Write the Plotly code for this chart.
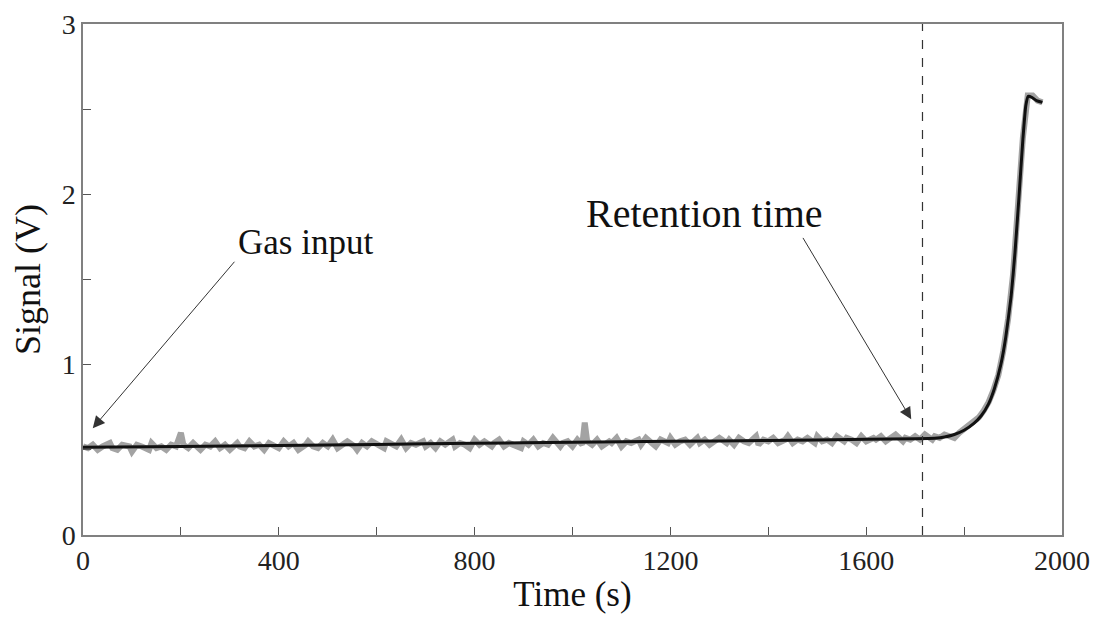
import plotly.graph_objects as go

# Smoothed signal (black line)
fit_t = [0, 200, 400, 600, 800, 1000, 1200, 1400, 1600, 1700, 1740, 1760, 1780, 1800, 1820,
         1835, 1850, 1862, 1875, 1885, 1896, 1904, 1912, 1920, 1926, 1931, 1938, 1948, 1960]
fit_v = [0.515, 0.52, 0.525, 0.532, 0.538, 0.545, 0.55, 0.555, 0.562, 0.565, 0.568, 0.575,
         0.59, 0.615, 0.655, 0.70, 0.77, 0.86, 1.00, 1.16, 1.40, 1.66, 1.98, 2.32, 2.52,
         2.575, 2.57, 2.55, 2.54]

# Raw (noisy) signal (grey trace)
raw_t = [0, 10, 20, 30, 40, 55, 60, 70, 80, 95, 100, 110, 120, 135, 140, 150, 160, 170, 180,
         190, 200, 205, 215, 225, 240, 250, 260, 270, 280, 290, 300, 315, 320, 330, 340, 350,
         360, 370, 380, 395, 400, 410, 420, 430, 440, 455, 460, 470, 480, 490, 500, 510, 520,
         530, 540, 555, 560, 570, 580, 590, 600, 615, 620, 630, 640, 650, 660, 670, 680, 695,
         700, 710, 720, 730, 740, 755, 760, 770, 780, 790, 800, 810, 820, 835, 840, 850, 860,
         870, 880, 895, 900, 910, 920, 930, 940, 950, 960, 975, 980, 990, 1000, 1010, 1020,
         1025, 1030, 1040, 1050, 1060, 1075, 1080, 1090, 1100, 1110, 1120, 1135, 1140, 1150,
         1160, 1170, 1180, 1195, 1200, 1210, 1220, 1230, 1240, 1255, 1260, 1270, 1280, 1290,
         1300, 1315, 1320, 1330, 1340, 1350, 1360, 1375, 1380, 1390, 1400, 1410, 1420, 1435,
         1440, 1450, 1460, 1470, 1480, 1495, 1500, 1510, 1520, 1530, 1540, 1555, 1560, 1570,
         1580, 1590, 1600, 1615, 1620, 1630, 1640, 1650, 1660, 1675, 1680, 1690, 1700, 1710,
         1720, 1735, 1740, 1750, 1760, 1770, 1780, 1790, 1800, 1810, 1820, 1830, 1840, 1850,
         1860, 1870, 1880, 1890, 1900, 1910, 1920, 1930, 1940, 1950, 1960]
raw_v = [0.52, 0.51, 0.53, 0.50, 0.52, 0.54, 0.51, 0.50, 0.53, 0.52, 0.49, 0.53, 0.52, 0.50,
         0.54, 0.51, 0.52, 0.50, 0.53, 0.52, 0.60, 0.53, 0.51, 0.54, 0.50, 0.53, 0.52, 0.55,
         0.51, 0.53, 0.50, 0.54, 0.52, 0.51, 0.55, 0.52, 0.53, 0.50, 0.54, 0.52, 0.51, 0.55,
         0.52, 0.54, 0.50, 0.53, 0.55, 0.52, 0.51, 0.54, 0.52, 0.56, 0.51, 0.53, 0.55, 0.52,
         0.50, 0.54, 0.52, 0.55, 0.53, 0.51, 0.55, 0.53, 0.52, 0.56, 0.51, 0.54, 0.53, 0.55,
         0.52, 0.54, 0.51, 0.55, 0.53, 0.56, 0.52, 0.54, 0.53, 0.51, 0.56, 0.53, 0.55, 0.52,
         0.54, 0.56, 0.52, 0.54, 0.53, 0.51, 0.55, 0.53, 0.56, 0.52, 0.54, 0.53, 0.57, 0.52,
         0.54, 0.55, 0.52, 0.56, 0.53, 0.66, 0.55, 0.53, 0.56, 0.52, 0.55, 0.54, 0.57, 0.52,
         0.55, 0.54, 0.56, 0.53, 0.57, 0.54, 0.52, 0.56, 0.54, 0.57, 0.53, 0.55, 0.56, 0.53,
         0.57, 0.54, 0.56, 0.53, 0.55, 0.57, 0.54, 0.56, 0.53, 0.57, 0.55, 0.54, 0.58, 0.53,
         0.56, 0.55, 0.57, 0.54, 0.56, 0.58, 0.54, 0.56, 0.55, 0.57, 0.54, 0.58, 0.55, 0.56,
         0.54, 0.58, 0.55, 0.57, 0.56, 0.54, 0.58, 0.55, 0.57, 0.56, 0.58, 0.55, 0.57, 0.59,
         0.55, 0.57, 0.56, 0.58, 0.56, 0.59, 0.56, 0.58, 0.57, 0.59, 0.58, 0.57, 0.60, 0.62,
         0.64, 0.66, 0.69, 0.73, 0.78, 0.85, 0.94, 1.08, 1.27, 1.53, 1.90, 2.33, 2.58, 2.58,
         2.55, 2.54]

x_ticks = [0, 200, 400, 600, 800, 1000, 1200, 1400, 1600, 1800, 2000]
x_labels = ["0", "", "400", "", "800", "", "1200", "", "1600", "", "2000"]
y_ticks = [0, 0.5, 1, 1.5, 2, 2.5, 3]
y_labels = ["0", "", "1", "", "2", "", "3"]

retention_time = 1715

FONT = "Liberation Serif"

fig = go.Figure()
fig.add_trace(go.Scatter(x=raw_t, y=raw_v, mode="lines",
                         line=dict(color="#a3a3a3", width=6), hoverinfo="skip"))
fig.add_trace(go.Scatter(x=fit_t, y=fit_v, mode="lines",
                         line=dict(color="#111111", width=3, shape="spline", smoothing=0.4)))

fig.add_shape(type="line", x0=retention_time, x1=retention_time, y0=0, y1=1,
              xref="x", yref="paper", line=dict(color="#333333", width=1.2, dash="dash"))

# Annotations
fig.add_annotation(x=20, y=0.627, ax=312, ay=1.613, xref="x", yref="y", axref="x", ayref="y",
                   text="", showarrow=True, arrowhead=2, arrowsize=2.4, arrowwidth=1,
                   arrowcolor="#333333")
fig.add_annotation(x=455, y=1.72, xref="x", yref="y", text="Gas input", showarrow=False,
                   font=dict(family=FONT, size=35, color="#111111"))
fig.add_annotation(x=1692, y=0.679, ax=1469, ay=1.753, xref="x", yref="y", axref="x", ayref="y",
                   text="", showarrow=True, arrowhead=2, arrowsize=2.4, arrowwidth=1,
                   arrowcolor="#333333")
fig.add_annotation(x=1269, y=1.89, xref="x", yref="y", text="Retention time", showarrow=False,
                   font=dict(family=FONT, size=40, color="#111111"))

axis_common = dict(showgrid=False, zeroline=False, showline=True, linecolor="#808080",
                   linewidth=1.5, mirror=True, ticks="inside", ticklen=8, tickwidth=1,
                   tickcolor="#555555", automargin=False, ticklabeloverflow="allow",
                   tickfont=dict(family=FONT, size=28, color="#222222"))

fig.update_xaxes(range=[0, 2000], tickvals=x_ticks, ticktext=x_labels,
                 title=dict(text="Time (s)", font=dict(family=FONT, size=35, color="#111111"),
                            standoff=6),
                 **axis_common)
fig.update_yaxes(range=[0, 3], tickvals=y_ticks, ticktext=y_labels,
                 title=dict(text="Signal (V)", font=dict(family=FONT, size=36, color="#111111"),
                            standoff=12),
                 **axis_common)

# The page body has an 8 px default margin, so the figure is sized to fit inside it.
fig.update_layout(width=1091, height=618, showlegend=False,
                  plot_bgcolor="white", paper_bgcolor="white",
                  margin=dict(l=75, r=37, t=16, b=91))

fig.write_html("out.html")
